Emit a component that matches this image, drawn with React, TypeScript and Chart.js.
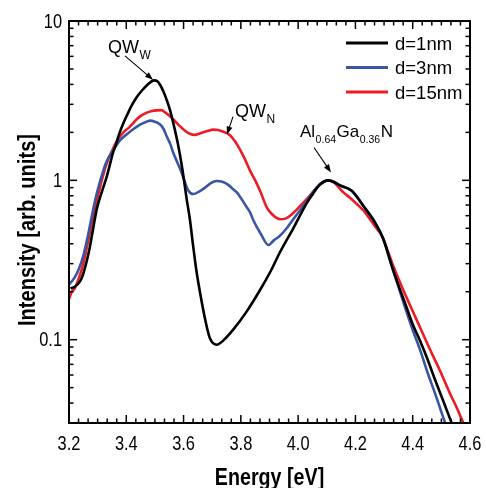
import { useEffect, useRef } from "react";
import { Chart, registerables } from "chart.js";

Chart.register(...registerables);

// ---------- data ----------
const seriesLabels = ["d=1nm", "d=3nm", "d=15nm"];
const seriesColors = ["#000000", "#3a55a4", "#ed1c24"];

const energy1 = [3.205, 3.22, 3.24, 3.25, 3.27, 3.28, 3.297, 3.315, 3.332, 3.345, 3.355, 3.361, 3.375, 3.39, 3.405, 3.419, 3.435, 3.454, 3.475, 3.497, 3.508, 3.518, 3.53, 3.541, 3.553, 3.565, 3.58, 3.595, 3.611, 3.622, 3.634, 3.645, 3.657, 3.675, 3.692, 3.716, 3.739, 3.774, 3.82, 3.867, 3.902, 3.937, 3.983, 4.03, 4.053, 4.076, 4.105, 4.146, 4.187, 4.228, 4.268, 4.297, 4.327, 4.35, 4.373, 4.4, 4.426, 4.452, 4.478, 4.505, 4.536, 4.55];
const intensity1 = [0.21, 0.215, 0.235, 0.26, 0.36, 0.45, 0.66, 0.85, 1.06, 1.3, 1.52, 1.62, 1.95, 2.29, 2.62, 2.95, 3.3, 3.65, 4.0, 4.24, 4.2, 3.98, 3.6, 3.2, 2.75, 2.25, 1.7, 1.2, 0.76, 0.57, 0.38, 0.27, 0.2, 0.135, 0.102, 0.093, 0.099, 0.116, 0.15, 0.205, 0.265, 0.355, 0.5, 0.72, 0.83, 0.94, 1.0, 0.93, 0.86, 0.69, 0.545, 0.43, 0.29, 0.22, 0.17, 0.125, 0.098, 0.075, 0.056, 0.042, 0.03, 0.026];

const energy2 = [3.2, 3.22, 3.235, 3.25, 3.265, 3.28, 3.295, 3.308, 3.33, 3.355, 3.38, 3.401, 3.425, 3.448, 3.47, 3.483, 3.5, 3.518, 3.53, 3.541, 3.553, 3.564, 3.578, 3.593, 3.605, 3.617, 3.634, 3.657, 3.675, 3.695, 3.716, 3.735, 3.755, 3.77, 3.786, 3.803, 3.82, 3.832, 3.844, 3.87, 3.896, 3.915, 3.937, 3.96, 3.983, 4.007, 4.03, 4.053, 4.076, 4.105, 4.125, 4.146, 4.165, 4.187, 4.21, 4.228, 4.25, 4.268, 4.297, 4.327, 4.35, 4.373, 4.4, 4.426, 4.452, 4.478, 4.496, 4.513, 4.525];
const intensity2 = [0.222, 0.246, 0.28, 0.336, 0.44, 0.6, 0.8, 0.98, 1.3, 1.55, 1.8, 1.94, 2.1, 2.24, 2.33, 2.37, 2.33, 2.24, 2.1, 1.89, 1.7, 1.49, 1.3, 1.12, 0.97, 0.86, 0.82, 0.857, 0.9, 0.96, 0.99, 0.98, 0.94, 0.89, 0.84, 0.76, 0.68, 0.63, 0.56, 0.46, 0.393, 0.42, 0.45, 0.5, 0.57, 0.65, 0.74, 0.85, 0.95, 1.0, 0.98, 0.93, 0.9, 0.86, 0.77, 0.69, 0.61, 0.545, 0.43, 0.29, 0.215, 0.16, 0.115, 0.086, 0.062, 0.046, 0.037, 0.03, 0.026];

const energy3 = [3.2, 3.21, 3.22, 3.235, 3.25, 3.265, 3.28, 3.295, 3.31, 3.33, 3.35, 3.37, 3.39, 3.41, 3.43, 3.448, 3.47, 3.49, 3.505, 3.522, 3.538, 3.553, 3.57, 3.588, 3.605, 3.622, 3.64, 3.657, 3.68, 3.704, 3.72, 3.739, 3.762, 3.78, 3.797, 3.815, 3.832, 3.85, 3.867, 3.89, 3.91, 3.937, 3.955, 3.972, 4.007, 4.04, 4.07, 4.09, 4.105, 4.125, 4.158, 4.18, 4.205, 4.23, 4.251, 4.27, 4.292, 4.332, 4.362, 4.391, 4.425, 4.46, 4.495, 4.53, 4.555, 4.577, 4.59];
const intensity3 = [0.18, 0.2, 0.21, 0.245, 0.3, 0.4, 0.54, 0.72, 0.93, 1.25, 1.53, 1.8, 2.0, 2.15, 2.35, 2.52, 2.65, 2.72, 2.75, 2.76, 2.65, 2.52, 2.35, 2.18, 2.05, 1.96, 1.93, 1.97, 2.03, 2.08, 2.07, 2.02, 1.92, 1.75, 1.56, 1.35, 1.15, 1.0, 0.86, 0.68, 0.61, 0.57, 0.575, 0.6, 0.69, 0.8, 0.92, 0.98, 1.0, 0.97, 0.84, 0.78, 0.71, 0.64, 0.57, 0.51, 0.45, 0.29, 0.215, 0.164, 0.12, 0.087, 0.064, 0.046, 0.037, 0.03, 0.027];

const energies = [energy1, energy2, energy3];
const intensities = [intensity1, intensity2, intensity3];

const xMin = 3.2;
const xMax = 4.6;
const xTickValues = [3.2, 3.4, 3.6, 3.8, 4.0, 4.2, 4.4, 4.6];
const xMinorPerMajor = 6;
const yMin = 0.03;
const yMax = 10;
const yTickValues = [0.1, 1, 10];
const xTitle = "Energy [eV]";
const yTitle = "Intensity [arb. units]";

// annotations in data units (energy, intensity)
const annotations = [
  { parts: [{ t: "QW" }, { t: "W", sub: true }], textE: 3.336, textI: 6.31, fromE: 3.3955, fromI: 6.04, toE: 3.4933, toI: 4.28 },
  { parts: [{ t: "QW" }, { t: "N", sub: true }], textE: 3.7796, textI: 2.51, fromE: 3.7726, fromI: 2.51, toE: 3.7516, toI: 1.94 },
  { parts: [{ t: "Al" }, { t: "0.64", sub: true }, { t: "Ga" }, { t: "0.36", sub: true }, { t: "N" }], textE: 4.0065, textI: 1.884, fromE: 4.0554, fromI: 1.608, toE: 4.1147, toI: 1.122 },
];

const SANS = '"Liberation Sans", Arial, sans-serif';
const NARROW_X = 0.82;

const decorPlugin = {
  id: "decor",
  afterDraw(chart: any) {
    const { ctx, chartArea: a } = chart;
    const xs = chart.scales.x;
    const ys = chart.scales.y;
    ctx.save();
    const line = (x1: number, y1: number, x2: number, y2: number) => {
      ctx.beginPath();
      ctx.moveTo(x1, y1);
      ctx.lineTo(x2, y2);
      ctx.stroke();
    };
    const narrowText = (t: string, x: number, y: number, font: string, align: CanvasTextAlign, baseline: CanvasTextBaseline, rot = 0) => {
      ctx.save();
      ctx.translate(x, y);
      if (rot) ctx.rotate(rot);
      ctx.scale(NARROW_X, 1);
      ctx.font = font;
      ctx.textAlign = align;
      ctx.textBaseline = baseline;
      ctx.fillStyle = "#000";
      ctx.fillText(t, 0, 0);
      ctx.restore();
    };
    ctx.strokeStyle = "#000";
    // ticks on x (bottom & top)
    ctx.lineWidth = 1.5;
    const step = (xTickValues[1] - xTickValues[0]) / xMinorPerMajor;
    const nx = Math.round((xMax - xMin) / step);
    for (let i = 0; i <= nx; i++) {
      const px = xs.getPixelForValue(xMin + i * step);
      const len = i % xMinorPerMajor === 0 ? 8 : 4.5;
      line(px, a.bottom, px, a.bottom - len);
      line(px, a.top, px, a.top + len);
    }
    // ticks on y (left & right)
    for (let e = -2; e <= 1; e++) {
      for (let k = 1; k <= 9; k++) {
        const v = k * Math.pow(10, e);
        if (v < yMin * 0.999 || v > yMax * 1.001) continue;
        const py = ys.getPixelForValue(v);
        const len = k === 1 ? 8 : 4.5;
        line(a.left, py, a.left + len, py);
        line(a.right, py, a.right - len, py);
      }
    }
    // frame
    ctx.lineWidth = 2;
    ctx.strokeRect(a.left, a.top, a.right - a.left, a.bottom - a.top);

    // tick labels
    xTickValues.forEach((v) => {
      narrowText(v.toFixed(1), xs.getPixelForValue(v), a.bottom + 21, `20px ${SANS}`, "center", "middle");
    });
    yTickValues.forEach((v) => {
      narrowText(String(v), a.left - 7, ys.getPixelForValue(v) + 1, `20px ${SANS}`, "right", "middle");
    });

    // axis titles
    narrowText(xTitle, (a.left + a.right) / 2, 485, `bold 24px ${SANS}`, "center", "alphabetic");
    narrowText(yTitle, 35, (a.top + a.bottom) / 2 + 8, `bold 24.5px ${SANS}`, "center", "alphabetic", -Math.PI / 2);

    // legend
    chart.data.datasets.forEach((ds: any, i: number) => {
      const y = a.top + 22 + i * 24.5;
      ctx.strokeStyle = ds.borderColor;
      ctx.lineWidth = 3;
      line(a.right - 124, y, a.right - 82, y);
      ctx.fillStyle = "#000";
      ctx.font = `18.5px ${SANS}`;
      ctx.textAlign = "left";
      ctx.textBaseline = "middle";
      ctx.fillText(ds.label, a.right - 75, y + 1.5);
    });

    // annotations
    annotations.forEach((an) => {
      let x = xs.getPixelForValue(an.textE);
      const base = ys.getPixelForValue(an.textI);
      ctx.fillStyle = "#000";
      ctx.textAlign = "left";
      ctx.textBaseline = "alphabetic";
      an.parts.forEach((p: any) => {
        const sub = !!p.sub;
        ctx.font = sub ? `${an.parts.length > 2 ? 10.5 : 12}px ${SANS}` : `${an.parts.length > 2 ? 17 : 18}px ${SANS}`;
        ctx.fillText(p.t, x, base + (sub ? 6 : 0));
        x += ctx.measureText(p.t).width + 0.5;
      });
      const x1 = xs.getPixelForValue(an.fromE);
      const y1 = ys.getPixelForValue(an.fromI);
      const x2 = xs.getPixelForValue(an.toE);
      const y2 = ys.getPixelForValue(an.toI);
      const ang = Math.atan2(y2 - y1, x2 - x1);
      const hl = 8;
      const hw = 3;
      ctx.strokeStyle = "#000";
      ctx.lineWidth = 1.1;
      line(x1, y1, x2 - Math.cos(ang) * hl * 0.8, y2 - Math.sin(ang) * hl * 0.8);
      ctx.beginPath();
      ctx.moveTo(x2, y2);
      ctx.lineTo(x2 - Math.cos(ang) * hl - Math.sin(ang) * hw, y2 - Math.sin(ang) * hl + Math.cos(ang) * hw);
      ctx.lineTo(x2 - Math.cos(ang) * hl + Math.sin(ang) * hw, y2 - Math.sin(ang) * hl - Math.cos(ang) * hw);
      ctx.closePath();
      ctx.fill();
    });
    ctx.restore();
  },
};

export default function App() {
  const ref = useRef<HTMLCanvasElement | null>(null);
  useEffect(() => {
    if (!ref.current) return;
    const chart = new Chart(ref.current, {
      type: "line",
      data: {
        datasets: seriesLabels.map((label, i) => ({
          label,
          data: energies[i].map((e, j) => ({ x: e, y: intensities[i][j] })),
          borderColor: seriesColors[i],
          backgroundColor: seriesColors[i],
          borderWidth: 2.6,
          pointRadius: 0,
          cubicInterpolationMode: "monotone" as const,
          fill: false,
        })),
      },
      options: {
        animation: false,
        responsive: false,
        maintainAspectRatio: false,
        layout: { padding: { top: 21, right: 16, left: 0, bottom: 0 } },
        plugins: { legend: { display: false }, tooltip: { enabled: false } },
        events: [],
        scales: {
          x: {
            type: "linear",
            min: xMin,
            max: xMax,
            afterBuildTicks: (s: any) => {
              s.ticks = xTickValues.map((v) => ({ value: v }));
            },
            afterFit: (s: any) => {
              s.height = 65;
            },
            ticks: { display: false },
            grid: { display: false, drawTicks: false },
            border: { display: false },
          },
          y: {
            type: "logarithmic",
            min: yMin,
            max: yMax,
            afterBuildTicks: (s: any) => {
              s.ticks = yTickValues.map((v) => ({ value: v }));
            },
            afterFit: (s: any) => {
              s.width = 69;
            },
            ticks: { display: false },
            grid: { display: false, drawTicks: false },
            border: { display: false },
          },
        },
      },
      plugins: [decorPlugin],
    });
    return () => chart.destroy();
  }, []);
  return (
    <div style={{ position: "absolute", left: 0, top: 0, width: 486, height: 488, background: "#fff" }}>
      <canvas ref={ref} width={486} height={488} style={{ display: "block" }} />
    </div>
  );
}
